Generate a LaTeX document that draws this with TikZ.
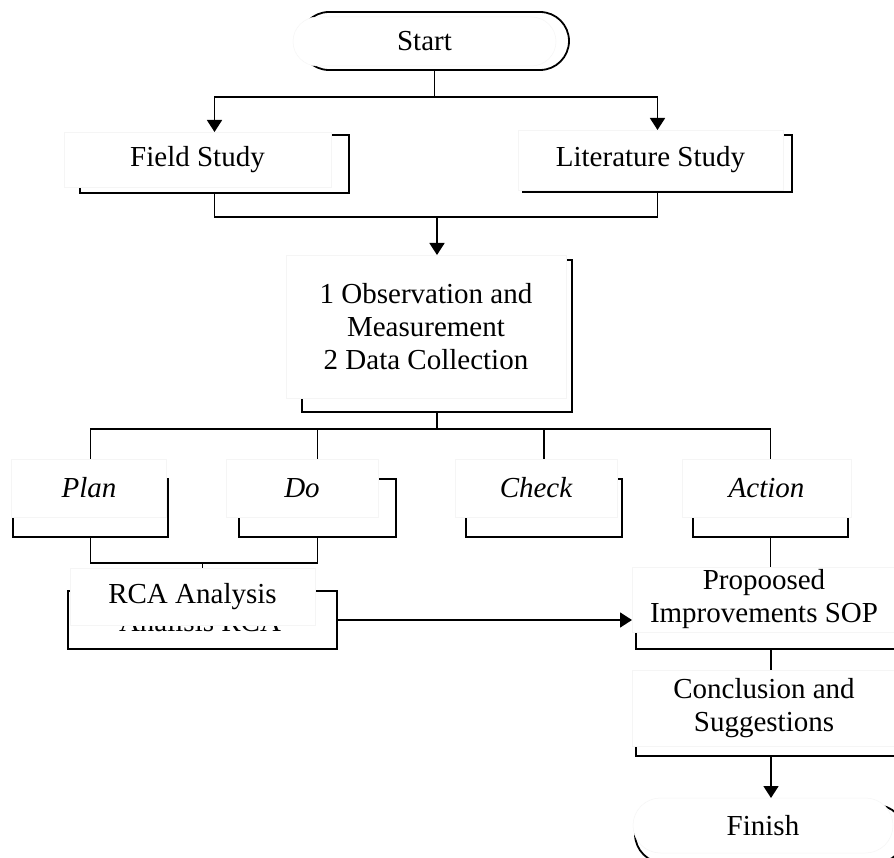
\documentclass[tikz,border=0pt]{standalone}
\usepackage{fontspec}
\setmainfont{Liberation Serif}
\usetikzlibrary{arrows.meta,shapes.misc,calc}
\newcommand\lbl{\fontsize{29}{33}\selectfont}
\tikzset{
  bbox/.style={draw=black, line width=1.8pt, fill=white, inner sep=0pt, outer sep=0pt},
  wbox/.style={fill=white, draw=black!4, line width=0.5pt, inner sep=0pt, outer sep=0pt, font=\lbl, align=center},
  bpill/.style={bbox, rounded rectangle},
  wpill/.style={wbox, rounded rectangle},
  conn/.style={line width=1.7pt, draw=black},
  arr/.style={conn, -{Triangle[width=15pt,length=12pt]}},
}
\begin{document}
\begin{tikzpicture}[x=1pt,y=-1pt]
\useasboundingbox (0,0) rectangle (894,858);
\clip (0,0) rectangle (894,858);
\fill[white] (0,0) rectangle (894,858);

% Start
\node[bpill, minimum width=269, minimum height=58] (startB) at (434.5,41) {};
\node[wpill, minimum width=263, minimum height=49] (start) at (424.5,41.5) {Start};

% Field / Literature
\node[bbox, minimum width=269, minimum height=58] (fieldB) at (214.5,164) {};
\node[wbox, minimum width=267, minimum height=55] (field) at (197.5,159.5) {Field Study};
\node[bbox, minimum width=269, minimum height=57] (litB) at (657.5,163.5) {};
\node[wbox, minimum width=265, minimum height=60] (lit) at (650.5,160) {Literature Study};

% Observation
\node[bbox, minimum width=270, minimum height=152] (obsB) at (437,336) {};
\node[wbox, minimum width=280, minimum height=143] (obs) at (426,326.5) {1 Observation and\\Measurement\\2 Data Collection};

% PDCA
\node[bbox, minimum width=155, minimum height=58] (planB) at (90.5,508) {};
\node[wbox, minimum width=155, minimum height=58] (plan) at (89,488) {\itshape Plan};
\node[bbox, minimum width=157, minimum height=58] (doB) at (317.5,508) {};
\node[wbox, minimum width=152, minimum height=58] (do) at (302,488) {\itshape Do};
\node[bbox, minimum width=156, minimum height=58] (checkB) at (544,508) {};
\node[wbox, minimum width=162, minimum height=58] (check) at (536,488) {\itshape Check};
\node[bbox, minimum width=155, minimum height=58] (actionB) at (770.5,508) {};
\node[wbox, minimum width=169, minimum height=58] (action) at (766.5,488) {\itshape Action};

% RCA
\node[bbox, minimum width=269, minimum height=58] (rcaB) at (202.5,620) {};
\node[font=\lbl, anchor=base, inner sep=0pt] (rcahid) at (200,631) {Analisis RCA};
\node[wbox, minimum width=245, minimum height=57] (rca) at (192.5,596.5) {RCA Analysis};

% Proposed
\node[bbox, minimum width=270, minimum height=58] (propB) at (771,620) {};
\node[wbox, minimum width=264, minimum height=65] (prop) at (764,599.5) {Propoosed\\Improvements SOP};

% Conclusion
\node[bbox, minimum width=270, minimum height=58] (conclB) at (771,727) {};
\node[wbox, minimum width=264, minimum height=76] (concl) at (764,708) {Conclusion and\\Suggestions};

% Finish
\node[bpill, minimum width=270, minimum height=58] (finishB) at (770,834) {};
\node[wpill, minimum width=260, minimum height=55] (finish) at (763,825.5) {Finish};

% connectors
\coordinate (j1) at ($(startB.south)+(0,27)$);
\draw[conn] (startB.south) -- (j1);
\draw[arr] (j1) -| (fieldB.north |- field.north);
\draw[arr] (j1) -| (litB.north |- lit.north);

\coordinate (j2) at (obsB.north |- 0,217);
\draw[conn] (fieldB.south) |- (j2);
\draw[conn] (litB.south) |- (j2);
\draw[arr] (j2) -- (obsB.north |- obs.north);

\coordinate (j3) at (obsB.south |- 0,429);
\draw[conn] (obsB.south) -- (j3);
\draw[conn] (j3) -| (planB.north |- plan.north);
\draw[conn] (j3) -| (doB.north |- do.north);
\draw[conn] (j3) -| (checkB.north |- check.north);
\draw[conn] (j3) -| (actionB.north |- action.north);

\coordinate (j4) at (rcaB.north |- 0,563);
\draw[conn] (planB.south) |- (j4);
\draw[conn] (doB.south) |- (j4);
\draw[conn] (j4) -- (rcaB.north |- rca.north);

\draw[arr] (rcaB.east) -- (rcaB.east -| prop.west);
\draw[conn] (actionB.south) -- (actionB.south |- prop.north);
\draw[conn] (propB.south) -- (propB.south |- concl.north);
\draw[arr] (conclB.south) -- (conclB.south |- finish.north);
\end{tikzpicture}
\end{document}
